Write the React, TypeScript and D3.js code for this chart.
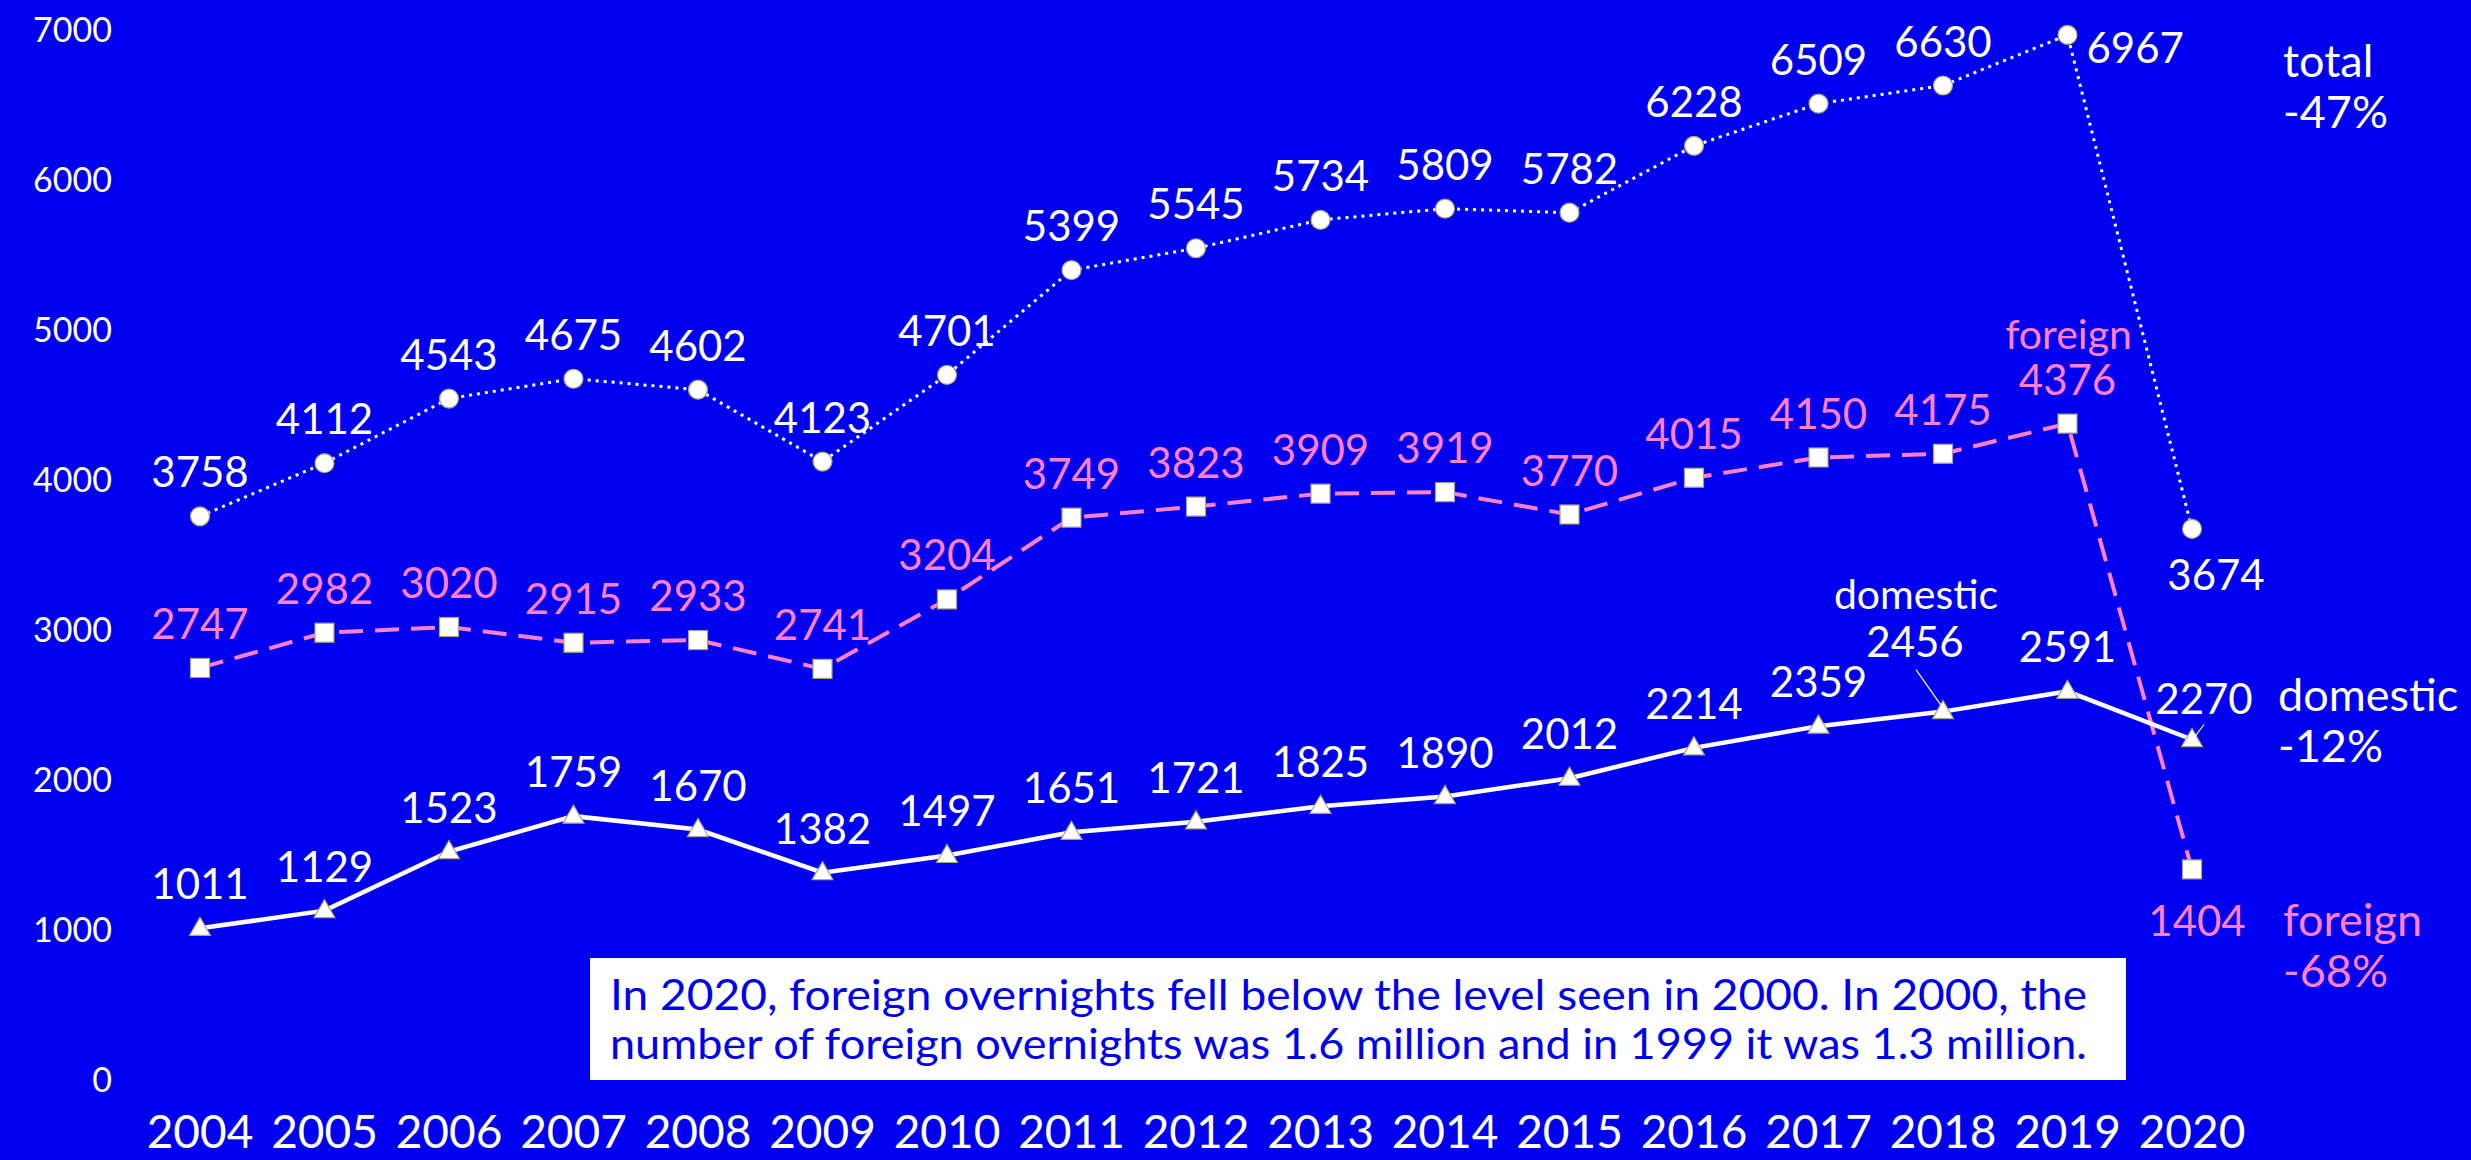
import React, { useEffect } from "react";
import * as d3 from "d3";

const years = [2004, 2005, 2006, 2007, 2008, 2009, 2010, 2011, 2012, 2013, 2014, 2015, 2016, 2017, 2018, 2019, 2020];
const totalValues = [3758, 4112, 4543, 4675, 4602, 4123, 4701, 5399, 5545, 5734, 5809, 5782, 6228, 6509, 6630, 6967, 3674];
const foreignValues = [2747, 2982, 3020, 2915, 2933, 2741, 3204, 3749, 3823, 3909, 3919, 3770, 4015, 4150, 4175, 4376, 1404];
const domesticValues = [1011, 1129, 1523, 1759, 1670, 1382, 1497, 1651, 1721, 1825, 1890, 2012, 2214, 2359, 2456, 2591, 2270];
const yTicks = [0, 1000, 2000, 3000, 4000, 5000, 6000, 7000];
const noteLines = [
  "In 2020, foreign overnights fell below the level seen in 2000.  In 2000, the",
  "number of foreign overnights was 1.6 million and in 1999 it was 1.3 million.",
];

const W = 2471;
const H = 1160;
const BG = "#0000F0";
const PINK = "#FF80C8";
const WHITE = "#FFFFFF";
const MARK_STROKE = "#A8A27A";
const FONT = "Lato, 'Open Sans', sans-serif";
const WEIGHT = 400;

type Off = { dx: number; dy: number; anchor?: string };
const defaultOff: Off = { dx: 0, dy: -29 };
const totalOff: Record<number, Off> = {
  2019: { dx: 19, dy: 28, anchor: "start" },
  2020: { dx: 24, dy: 61 },
};
const foreignOff: Record<number, Off> = {
  2020: { dx: 5, dy: 67 },
};
const domesticOff: Record<number, Off> = {
  2018: { dx: -28, dy: -55 },
  2020: { dx: 12, dy: -26 },
};

export default function App() {
  useEffect(() => {
    document.body.style.margin = "0";
    document.body.style.background = BG;
  }, []);

  const x = d3.scaleLinear().domain([2004, 2020]).range([200, 2192]);
  const y = d3.scaleLinear().domain([0, 7000]).range([1080, 30]);

  const line = d3
    .line<number>()
    .x((_, i) => x(years[i]))
    .y((d) => y(d));

  const tri = d3.symbol().type(d3.symbolTriangle).size(190)();

  const labels = (vals: number[], offs: Record<number, Off>, color: string) =>
    vals.map((v, i) => {
      const o = offs[years[i]] || defaultOff;
      return (
        <text
          key={"l" + i}
          x={x(years[i]) + o.dx}
          y={y(v) + o.dy}
          textAnchor={o.anchor || "middle"}
          fill={color}
          fontSize={42}
          fontWeight={WEIGHT}
          fontFamily={FONT}
        >
          {v}
        </text>
      );
    });

  const i18 = years.indexOf(2018);
  const i19 = years.indexOf(2019);
  const i20 = years.indexOf(2020);

  return (
    <svg
      width={W}
      height={H}
      viewBox={`0 0 ${W} ${H}`}
      style={{ position: "absolute", left: 0, top: 0, display: "block" }}
    >
      <rect x={0} y={0} width={W} height={H} fill={BG} />

      {/* y axis labels */}
      {yTicks.map((t) => (
        <text key={t} x={112} y={y(t) + 12} textAnchor="end" fill={WHITE} fontSize={34} fontWeight={WEIGHT} fontFamily={FONT}>
          {t}
        </text>
      ))}

      {/* x axis labels */}
      {years.map((yr) => (
        <text key={yr} x={x(yr)} y={1148} textAnchor="middle" fill={WHITE} fontSize={46} fontWeight={WEIGHT} fontFamily={FONT}>
          {yr}
        </text>
      ))}

      {/* lines */}
      <path d={line(totalValues) || ""} fill="none" stroke={WHITE} strokeWidth={3} strokeDasharray="3 5" />
      <path d={line(foreignValues) || ""} fill="none" stroke={PINK} strokeWidth={4} strokeDasharray="24 12" />
      <path d={line(domesticValues) || ""} fill="none" stroke={WHITE} strokeWidth={4.5} />

      {/* markers */}
      {totalValues.map((v, i) => (
        <circle key={"c" + i} cx={x(years[i])} cy={y(v)} r={9.5} fill={WHITE} stroke={MARK_STROKE} strokeWidth={1.2} />
      ))}
      {foreignValues.map((v, i) => (
        <rect
          key={"s" + i}
          x={x(years[i]) - 9.5}
          y={y(v) - 9.5}
          width={19}
          height={19}
          fill={WHITE}
          stroke={MARK_STROKE}
          strokeWidth={1.2}
        />
      ))}
      {domesticValues.map((v, i) => (
        <path
          key={"t" + i}
          d={tri || ""}
          transform={`translate(${x(years[i])},${y(v) + 1})`}
          fill={WHITE}
          stroke={MARK_STROKE}
          strokeWidth={1.2}
        />
      ))}

      {/* value labels */}
      {labels(totalValues, totalOff, WHITE)}
      {labels(foreignValues, foreignOff, PINK)}
      {labels(domesticValues, domesticOff, WHITE)}

      {/* leader lines */}
      <line
        x1={x(years[i18]) - 27}
        y1={y(domesticValues[i18]) - 42}
        x2={x(years[i18]) - 1}
        y2={y(domesticValues[i18]) - 5}
        stroke={WHITE}
        strokeWidth={1.2}
      />
      <line
        x1={x(years[i20]) + 12}
        y1={y(domesticValues[i20]) - 15}
        x2={x(years[i20]) + 3}
        y2={y(domesticValues[i20]) - 3}
        stroke={WHITE}
        strokeWidth={1.2}
      />

      {/* inline series names */}
      <text x={x(years[i18]) - 27} y={y(domesticValues[i18]) - 103} textAnchor="middle" fill={WHITE} fontSize={41} fontWeight={WEIGHT} fontFamily={FONT}>
        domestic
      </text>
      <text x={x(years[i19]) + 1} y={y(foreignValues[i19]) - 75} textAnchor="middle" fill={PINK} fontSize={41} fontWeight={WEIGHT} fontFamily={FONT}>
        foreign
      </text>

      {/* right-side legend */}
      <g fontFamily={FONT} fontSize={45} fontWeight={WEIGHT}>
        <text x={2283} y={77} fill={WHITE}>total</text>
        <text x={2283} y={128} fill={WHITE}>-47%</text>
        <text x={2278} y={711} fill={WHITE}>domestic</text>
        <text x={2278} y={762} fill={WHITE}>-12%</text>
        <text x={2283} y={936} fill={PINK}>foreign</text>
        <text x={2283} y={987} fill={PINK}>-68%</text>
      </g>

      {/* note box */}
      <rect x={590} y={958} width={1536} height={122} fill={WHITE} />
      {noteLines.map((t, i) => (
        <text
          key={"n" + i}
          x={610}
          y={1010 + i * 49}
          fill={BG}
          fontSize={43}
          fontFamily={FONT}
          textLength={1477}
          lengthAdjust="spacingAndGlyphs"
        >
          {t}
        </text>
      ))}
    </svg>
  );
}
